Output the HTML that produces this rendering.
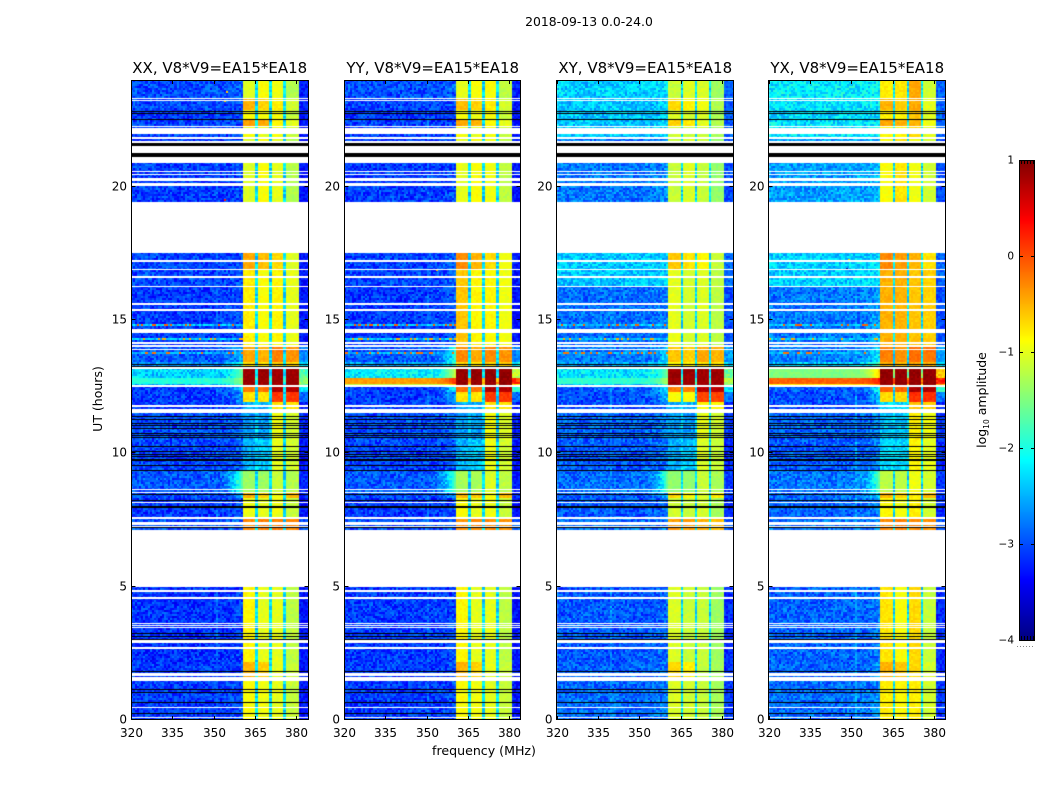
<!DOCTYPE html>
<html>
<head>
<meta charset="utf-8">
<title>2018-09-13 0.0-24.0</title>
<style>
html,body{margin:0;padding:0;background:#fff;}
#figure{position:relative;width:1050px;height:800px;overflow:hidden;background:#fff;}
canvas{position:absolute;display:block;}
#overlay{position:absolute;left:0;top:0;}
text{font-family:"DejaVu Sans","Liberation Sans",sans-serif;fill:#000;}
</style>
</head>
<body>
<div id="figure">
<svg id="overlay" width="1050" height="800" viewBox="0 0 1050 800">
  <text x="589" y="26" text-anchor="middle" font-size="12.4">2018-09-13 0.0-24.0</text>
  <text x="484" y="755" text-anchor="middle" font-size="12.6">frequency (MHz)</text>
  <text transform="translate(102,399) rotate(-90)" text-anchor="middle" font-size="12.5">UT (hours)</text>
  <text transform="translate(986,400) rotate(-90)" text-anchor="middle" font-size="12.5">log<tspan font-size="7.5" dy="3">10</tspan><tspan dy="-3"> amplitude</tspan></text>
</svg>
</div>
<script>
// ---- chart data (frequency in MHz, time in UT hours, values in log10 amplitude) ----
const polarizations = ["XX", "YY", "XY", "YX"];
const baselineLabel = ", V8*V9=EA15*EA18";
const freqTicks = [320, 335, 350, 365, 380];
const utTicks = [0, 5, 10, 15, 20];
const colorbarTicks = [1, 0, -1, -2, -3, -4];

// Start hour of each observing segment; each row in the tables below is one segment.
const segmentStarts = [0, 1.5, 2.2, 7.1, 7.55, 8.3, 8.55, 9.35, 10.5, 11.52, 11.9, 12.3, 12.5, 12.62, 12.85, 13.17, 13.4, 14, 16.3, 16.9, 19.4, 21.8, 22.3, 22.5, 22.9, 23.3];

// Columns: background, edge-of-band, band 1, band 2, band 3, band 4, above-band
const levelsXX = [
  [-3.1,-3.0,-.88,-.95,-1.0,-1.15,-3.3],
  [-3.1,-3.0,-.5,-.65,-1.0,-1.15,-3.3],
  [-3.15,-3.05,-.85,-1.0,-1.0,-1.2,-3.3],
  [-3.0,-2.9,-.3,-.25,-.25,-.3,-3.0],
  [-3.1,-3.0,-.95,-1.0,-.95,-1.15,-3.3],
  [-3.0,-2.5,-.5,-.65,-.9,-.55,-3.2],
  [-2.95,-1.5,-1.35,-1.35,-1.15,-1.25,-3.2],
  [-3.05,-2.9,-2.5,-2.4,-1.0,-1.1,-3.3],
  [-3.0,-2.8,-2.6,-2.6,-.95,-1.1,-3.2],
  [-3.1,-2.9,-2.5,-2.5,-.75,-.75,-3.3],
  [-3.1,-2.5,-.75,-.75,.1,.1,-2.9],
  [-3.1,-2.1,-.2,-.2,.75,.75,-2.2],
  [-2.5,-1.6,.85,.85,.85,.85,-1.7],
  [-1.95,-1.3,.85,.85,.85,.85,-1.4],
  [-2.35,-1.5,.85,.85,.85,.85,-1.7],
  [-2.7,-1.9,-.75,-.75,-.65,-.65,-2.2],
  [-2.95,-2.4,-.45,-.5,-.25,-.35,-2.7],
  [-3.1,-3.0,-.8,-.9,-.85,-1.0,-3.3],
  [-3.05,-3.0,-.8,-.9,-.85,-1.0,-3.3],
  [-3.05,-3.0,-.45,-.55,-.7,-1.05,-3.3],
  [-3.1,-3.0,-1.05,-.9,-1.0,-1.25,-3.3],
  [-3.05,-3.0,-.95,-1.0,-.95,-1.15,-3.3],
  [-3.05,-3.0,-.4,-.45,-.85,-1.0,-3.3],
  [-3.1,-3.0,-.9,-.95,-.9,-1.15,-3.3],
  [-3.05,-3.0,-.5,-.65,-.8,-1.1,-3.25],
  [-3.0,-2.9,-1.05,-.9,-.95,-1.25,-3.25]
];
const levelsYY = [
  [-3.1,-3.0,-.88,-.95,-1.0,-1.15,-3.3],
  [-3.1,-3.0,-.5,-.65,-1.0,-1.15,-3.3],
  [-3.1,-3.05,-.85,-1.0,-1.0,-1.2,-3.3],
  [-3.0,-2.9,-.35,-.3,-.3,-.35,-3.0],
  [-3.1,-3.0,-.9,-1.0,-.95,-1.15,-3.3],
  [-3.0,-2.5,-.55,-.65,-.9,-.55,-3.2],
  [-2.95,-1.5,-1.3,-1.3,-1.05,-1.2,-3.2],
  [-3.05,-2.9,-2.5,-2.4,-.95,-1.1,-3.3],
  [-3.0,-2.8,-2.6,-2.6,-.9,-1.05,-3.2],
  [-3.1,-2.9,-2.5,-2.5,-.75,-.75,-3.3],
  [-3.1,-2.5,-.75,-.75,.1,.1,-2.9],
  [-3.1,-1.9,-.15,-.15,.75,.75,-1.9],
  [-1.2,-.5,.9,.9,.9,.9,-.8],
  [-.4,.2,.9,.9,.9,.9,.1],
  [-2.2,-1.0,.9,.9,.9,.9,-1.2],
  [-2.6,-1.6,-.65,-.75,-.65,-.65,-2.1],
  [-2.95,-1.9,-.3,-.45,-.3,-.35,-2.7],
  [-3.1,-2.9,-.6,-.85,-.85,-.95,-3.3],
  [-3.05,-2.9,-.6,-.85,-.85,-.95,-3.3],
  [-3.05,-2.9,-.3,-.5,-.7,-.95,-3.3],
  [-3.1,-3.0,-1.0,-.9,-.95,-1.2,-3.3],
  [-3.05,-3.0,-.9,-1.0,-.95,-1.15,-3.3],
  [-3.05,-3.0,-.45,-.5,-.85,-1.0,-3.3],
  [-3.1,-3.0,-.9,-.95,-.9,-1.15,-3.3],
  [-3.05,-3.0,-.55,-.65,-.8,-1.1,-3.25],
  [-3.0,-2.9,-1.0,-.9,-.9,-1.2,-3.25]
];
const levelsXY = [
  [-2.85,-2.75,-1.05,-1.1,-1.15,-1.3,-3.1],
  [-2.9,-2.75,-.7,-.8,-1.15,-1.3,-3.15],
  [-2.95,-2.85,-1.05,-1.15,-1.15,-1.35,-3.2],
  [-2.85,-2.75,-.4,-.4,-.5,-.55,-3.0],
  [-2.95,-2.85,-1.1,-1.15,-1.1,-1.3,-3.2],
  [-2.9,-2.4,-.7,-.85,-1.05,-.8,-3.1],
  [-2.85,-1.5,-1.4,-1.4,-1.15,-1.3,-3.1],
  [-2.95,-2.75,-2.5,-2.4,-1.05,-1.15,-3.2],
  [-2.9,-2.65,-2.6,-2.6,-1.0,-1.1,-3.1],
  [-3.0,-2.75,-2.5,-2.5,-.85,-.85,-3.2],
  [-3.0,-2.4,-.9,-.9,.05,.05,-2.8],
  [-2.95,-2.1,-.25,-.25,.7,.7,-2.2],
  [-2.4,-1.6,.85,.85,.85,.85,-1.6],
  [-1.9,-1.2,.85,.85,.85,.85,-1.3],
  [-2.25,-1.5,.85,.85,.85,.85,-1.6],
  [-2.6,-1.9,-.85,-.85,-.75,-.75,-2.3],
  [-2.8,-2.2,-.6,-.65,-.45,-.5,-2.6],
  [-2.85,-2.7,-1.0,-1.1,-1.05,-1.2,-3.0],
  [-2.4,-2.35,-1.0,-1.1,-1.05,-1.2,-2.9],
  [-2.4,-2.35,-.6,-.75,-.85,-1.15,-2.9],
  [-2.8,-2.65,-1.15,-1.05,-1.15,-1.4,-3.0],
  [-2.4,-2.35,-1.1,-1.15,-1.1,-1.3,-2.95],
  [-2.4,-2.35,-.65,-.8,-1.0,-1.25,-2.95],
  [-2.4,-2.35,-1.05,-1.1,-1.05,-1.3,-2.95],
  [-2.4,-2.35,-.7,-.85,-.95,-1.25,-2.95],
  [-2.35,-2.25,-1.15,-1.05,-1.05,-1.35,-2.9]
];
const levelsYX = [
  [-2.85,-2.6,-.8,-.85,-.8,-1.1,-3.1],
  [-2.9,-2.6,-.5,-.6,-.7,-1.1,-3.15],
  [-2.9,-2.7,-.75,-.9,-.7,-1.15,-3.2],
  [-2.8,-2.6,-.3,-.25,-.3,-.35,-3.0],
  [-2.9,-2.7,-.85,-.95,-.8,-1.1,-3.2],
  [-2.85,-2.3,-.5,-.65,-.8,-.55,-3.1],
  [-2.8,-1.5,-1.2,-1.2,-.95,-1.1,-3.1],
  [-2.95,-2.65,-2.3,-2.3,-.85,-1.0,-3.2],
  [-2.9,-2.65,-2.4,-2.4,-.8,-.95,-3.1],
  [-3.0,-2.65,-2.3,-2.3,-.6,-.65,-3.2],
  [-3.0,-2.3,-.7,-.7,.15,.15,-2.8],
  [-2.95,-1.9,-.1,-.1,.8,.8,-1.9],
  [-.8,-.2,.9,.9,.9,.9,-.6],
  [-.1,.3,.9,.9,.9,.9,.2],
  [-1.5,-.5,.9,.9,.9,.9,-.6],
  [-2.4,-1.5,-.5,-.55,-.45,-.5,-2.2],
  [-2.75,-2.1,-.25,-.35,-.15,-.2,-2.6],
  [-2.8,-2.55,-.5,-.5,-.6,-.65,-3.0],
  [-2.35,-2.25,-.5,-.5,-.6,-.65,-2.9],
  [-2.35,-2.25,-.3,-.4,-.5,-.75,-2.9],
  [-2.6,-2.45,-.9,-.75,-.95,-1.1,-3.0],
  [-2.25,-2.2,-.85,-.85,-.7,-1.05,-2.9],
  [-2.25,-2.2,-.45,-.5,-.5,-.95,-2.9],
  [-2.3,-2.25,-.8,-.85,-.6,-1.05,-2.9],
  [-2.25,-2.2,-.5,-.65,-.45,-1.0,-2.9],
  [-2.2,-2.15,-.8,-.75,-.45,-1.1,-2.9]
];
const levelTables = [levelsXX, levelsYY, levelsXY, levelsYX];

// Spectral windows of the receiver [start MHz, end MHz]; gaps between them are notches.
const bandLow = [360.7, 365.9, 371, 376.1];
const bandHigh = [365, 370.1, 375.2, 380.4];
const notchLevel = -2.3;

// Intervals with no data (white), [from UT, to UT]
const gapStart = [.08,.45,1.47,1.66,2.66,2.90,3.44,3.51,3.60,4.54,4.79,5.00,7.23,7.30,7.55,8.13,8.51,8.61,11.52,11.75,12.50,13.17,13.90,14.00,14.10,14.50,15.34,15.57,16.25,16.59,16.86,17.18,17.52,20.03,20.22,20.43,20.54,20.88,21.25,21.63,21.80,21.98,22.26,23.21,23.27];
const gapEnd = [.12,.50,1.60,1.75,2.73,2.99,3.48,3.56,3.65,4.62,4.88,7.13,7.28,7.44,7.62,8.16,8.55,8.65,11.67,11.81,12.56,13.24,13.92,14.06,14.18,14.65,15.41,15.65,16.29,16.66,16.90,17.25,19.44,20.13,20.31,20.48,20.59,21.11,21.53,21.71,21.87,22.21,22.29,23.25,23.31];

// Flagged rows (black), [from UT, to UT]
const flagStart = [.24,.65,1.03,1.14,1.82,3.02,3.11,3.24,7.20,7.95,8.21,8.46,9.34,9.55,9.72,9.86,9.96,10.05,10.26,10.59,10.65,10.72,10.93,11.05,11.12,11.27,11.36,13.26,13.30,21.11,21.53,22.51,22.72,22.79];
const flagEnd = [.27,.68,1.06,1.17,1.85,3.05,3.14,3.27,7.23,8.02,8.24,8.49,9.37,9.58,9.79,9.89,9.99,10.08,10.29,10.62,10.68,10.75,10.96,11.08,11.15,11.30,11.39,13.28,13.36,21.25,21.63,22.54,22.75,22.82];

// Narrow-band interference: rows with spikes, and faint fixed channels
const rfiRowUT = [14.83, 14.31, 13.79];
const rfiRowBase = [-2.3, -2.3, -2.4];
const rfiRowPeak = [-.1, -.5, -.2];
const rfiChannelPol = [0, 1, 1, 2, 3, 3];
const rfiChannelMHz = [351, 339.5, 350.5, 340, 350, 352];
const rfiChannelLevel = [-2.9, -2.4, -2.9, -2.7, -2.6, -2.6];
const rfiSpotPol = [0, 0, 0, 1, 3, 3];
const rfiSpotMHz = [353.8, 353.8, 354.5, 353.5, 348, 349];
const rfiSpotUT = [19.55, 23.25, 23.6, 16.9, 16.95, 17.3];
const rfiSpotLevel = [.3, -.6, -.6, -.5, -3.9, -.7];

// Fixed speckle texture (fraction of the local scatter)
const speckle = [.62,-.41,.13,-.88,.37,.05,-.29,.76,-.54,.21,-.12,.93,-.67,.44,-.03,-.79,.58,.16,-.36,.71,-.95,.28,-.18,.49,.09,-.61,.84,-.25,.33,-.47,.67,-.08,.19,-.73,.52,-.31,.98,-.56,.11,.39,-.84,.24,-.14,.78,-.43,.02,.61,-.91,.31,-.22,.55,-.65,.17,.87,-.38,.07,-.77,.46,-.16,.69,-.51,.26,-.99,.35,.12,-.33,.81,-.59,.42,-.06,-.72,.64,.22,-.45,.91,-.27,.04,-.83,.53,-.19,.74,-.37,.15,-.63,.48,.29,-.86,.57,-.1,.34,-.53,.83,-.24,.08,-.69,.4,-.02,.66,-.48,.2,-.81];

// ---- layout ----
const NS = "http://www.w3.org/2000/svg";
const plotLeft = [131, 344, 556.5, 768.5];
const plotRight = [308, 520, 733, 945];
const plotTop = 80, plotWidth = 176.5, plotHeight = 640;
const freqMin = 320, freqMax = 384, utMin = 0, utMax = 24;
const channelStep = 0.75, rowStep = 0.075, fadeStart = 345;
const cbLeft = 1019, cbTop = 160, cbWidth = 16, cbHeight = 480, cbMin = -4, cbMax = 1;
const cbEdgeFractions = [0.1, 0.3, 0.5, 0.7, 0.9];

const xScale = (mhz, i) => plotLeft[i] + (mhz - freqMin) / (freqMax - freqMin) * plotWidth;
const yScale = ut => plotTop + plotHeight - (ut - utMin) / (utMax - utMin) * plotHeight;
const cbScale = v => cbTop + (cbMax - v) / (cbMax - cbMin) * cbHeight;

function clamp01(x) { return Math.max(0, Math.min(1, x)); }
function jet(t) {
  t = clamp01(t);
  const r = clamp01(1.5 - Math.abs(4 * t - 3));
  const g = clamp01(1.5 - Math.abs(4 * t - 2));
  const b = clamp01(1.5 - Math.abs(4 * t - 1));
  return "rgb(" + Math.round(r * 255) + "," + Math.round(g * 255) + "," + Math.round(b * 255) + ")";
}
const color = v => jet((v - cbMin) / (cbMax - cbMin));

function segmentIndex(ut) {
  let s = 0;
  for (let k = 0; k < segmentStarts.length; k++) { if (ut >= segmentStarts[k]) s = k; }
  return s;
}
function speckleAt(ci, ri, p) {
  const h = (Math.imul(ci + 1, 73856093) ^ Math.imul(ri + 1, 19349663) ^ Math.imul(p + 1, 83492791)) >>> 0;
  return speckle[(h >>> 7) % speckle.length];
}

function cellLevel(p, mhz, ut, ci, ri) {
  const row = levelTables[p][segmentIndex(ut)];
  const noise = speckleAt(ci, ri, p);
  const bandEnd = bandHigh[bandHigh.length - 1];
  if (mhz >= bandLow[0] && mhz < bandEnd) {
    let b = 0;
    for (let k = 0; k < bandLow.length; k++) { if (mhz >= bandLow[k] - 0.45) b = k; }
    const level = row[2 + b];
    return level + noise * (level < -2 ? 0.25 : 0.09);
  }
  if (mhz >= bandEnd) return row[6] + noise * 0.25;
  let base = row[0];
  if (mhz > fadeStart) {
    const f = (mhz - fadeStart) / (bandLow[0] - fadeStart);
    base = row[0] + (row[1] - row[0]) * f * f * f * f;
  }
  const scatter = base > -2 ? 0.1 : 0.36;
  let value = base + noise * scatter;
  for (let r = 0; r < rfiRowUT.length; r++) {
    if (Math.abs(ut - rfiRowUT[r]) < rowStep * 0.6) {
      value = Math.max(value, noise > 0.45 ? rfiRowPeak[r] : rfiRowBase[r] + noise * 0.4);
    }
  }
  for (let c = 0; c < rfiChannelPol.length; c++) {
    if (rfiChannelPol[c] === p && Math.abs(mhz - rfiChannelMHz[c]) < channelStep / 2) {
      value = Math.max(value, rfiChannelLevel[c] + noise * 0.3);
    }
  }
  return value;
}

function svgEl(tag, attrs) {
  const el = document.createElementNS(NS, tag);
  for (const k in attrs) el.setAttribute(k, attrs[k]);
  return el;
}

const figure = document.getElementById("figure");
const overlay = document.getElementById("overlay");

polarizations.forEach((pol, p) => {
  const key = pol.toLowerCase();
  const canvas = document.createElement("canvas");
  
  
  const left = plotLeft[p];
  const ox = Math.floor(left);
  canvas.width = plotRight[p] - ox;
  canvas.height = plotHeight;
  canvas.style.left = ox + "px";
  canvas.style.top = plotTop + "px";
  figure.insertBefore(canvas, overlay);
  const ctx = canvas.getContext("2d");
  const cols = Math.ceil((freqMax - freqMin) / channelStep);
  const rows = Math.ceil((utMax - utMin) / rowStep);
  for (let ci = 0; ci < cols; ci++) {
    const mhz = freqMin + ci * channelStep;
    const x0 = Math.round(xScale(mhz, p) - ox);
    const x1 = Math.round(xScale(mhz + channelStep, p) - ox);
    for (let ri = 0; ri < rows; ri++) {
      const ut = utMin + ri * rowStep;
      const y0 = Math.round(yScale(ut + rowStep) - plotTop);
      const y1 = Math.round(yScale(ut) - plotTop);
      ctx.fillStyle = color(cellLevel(p, mhz + channelStep / 2, ut + rowStep / 2, ci, ri));
      ctx.fillRect(x0, y0, x1 - x0, y1 - y0);
    }
  }
  // band-edge notches drawn at their true frequency
  for (let b = 0; b < bandLow.length - 1; b++) {
    const nx0 = Math.round(xScale(bandHigh[b], p) - ox);
    const nx1 = Math.round(xScale(bandLow[b + 1], p) - ox);
    for (let ri = 0; ri < rows; ri++) {
      const ut = utMin + ri * rowStep;
      const y0 = Math.round(yScale(ut + rowStep) - plotTop);
      const y1 = Math.round(yScale(ut) - plotTop);
      const row = levelTables[p][segmentIndex(ut + rowStep / 2)];
      ctx.fillStyle = color(Math.max(notchLevel, row[0]) + speckleAt(b, ri, p) * 0.3);
      ctx.fillRect(nx0, y0, nx1 - nx0, y1 - y0);
    }
  }
  rfiSpotPol.forEach((sp, s) => {
    if (sp !== p) return;
    ctx.fillStyle = color(rfiSpotLevel[s]);
    ctx.fillRect(Math.round(xScale(rfiSpotMHz[s], p) - ox), Math.round(yScale(rfiSpotUT[s]) - plotTop), 2, 2);
  });
  gapStart.forEach((g, i) => {
    const yTop = Math.round(yScale(gapEnd[i]) - plotTop);
    const yBottom = Math.round(yScale(g) - plotTop);
    ctx.clearRect(0, yTop, canvas.width, Math.max(1, yBottom - yTop));
  });
  ctx.fillStyle = "#000";
  flagStart.forEach((g, i) => {
    const yTop = Math.round(yScale(flagEnd[i]) - plotTop);
    const yBottom = Math.round(yScale(g) - plotTop);
    ctx.fillRect(0, yTop, canvas.width, Math.max(1, yBottom - yTop));
  });

  const group = svgEl("g", {});
  
  
  overlay.appendChild(group);

  const title = svgEl("text", { x: left + plotWidth / 2 + 0.5, y: 73, "text-anchor": "middle", "font-size": "15" });
  
  
  title.textContent = pol + baselineLabel;
  group.appendChild(title);

  const frame = svgEl("rect", { x: ox + 0.5, y: plotTop + 0.5, width: plotRight[p] - ox, height: plotHeight - 1, fill: "none", stroke: "#000", "stroke-width": 1 });
  
  
  group.appendChild(frame);

  freqTicks.forEach(f => {
    const x = Math.round(xScale(f, p)) + 0.5;
    const tick = svgEl("path", { d: "M" + x + " " + (plotTop + plotHeight) + "v-4M" + x + " " + plotTop + "v4", stroke: "#000", "stroke-width": 1 });
    
    
    group.appendChild(tick);
    const label = svgEl("text", { x: x, y: 737, "text-anchor": "middle", "font-size": "12" });
    
    
    label.textContent = f;
    group.appendChild(label);
  });
  utTicks.forEach(u => {
    const y = Math.round(yScale(u)) - 0.5;
    const right = plotRight[p] + 0.5;
    const tick = svgEl("path", { d: "M" + (ox + 0.5) + " " + y + "h4M" + right + " " + y + "h-4", stroke: "#000", "stroke-width": 1 });
    
    
    group.appendChild(tick);
    const label = svgEl("text", { x: left - 4, y: y + 4, "text-anchor": "end", "font-size": "12" });
    
    
    label.textContent = u;
    group.appendChild(label);
  });
});

// ---- colorbar ----
const cbCanvas = document.createElement("canvas");


cbCanvas.width = cbWidth;
cbCanvas.height = cbHeight;
cbCanvas.style.left = cbLeft + "px";
cbCanvas.style.top = cbTop + "px";
figure.insertBefore(cbCanvas, overlay);
const cbCtx = cbCanvas.getContext("2d");
for (let y = 0; y < cbHeight; y++) {
  cbCtx.fillStyle = jet(1 - (y + 0.5) / cbHeight);
  cbCtx.fillRect(0, y, cbWidth, 1);
}
const cbFrame = svgEl("rect", { x: cbLeft + 0.5, y: cbTop + 0.5, width: cbWidth - 1, height: cbHeight, fill: "none", stroke: "#000", "stroke-width": 1 });


overlay.appendChild(cbFrame);
colorbarTicks.forEach(v => {
  const y = Math.round(cbScale(v)) + 0.5;
  const tick = svgEl("path", { d: "M" + cbLeft + " " + y + "h4M" + (cbLeft + cbWidth) + " " + y + "h-4", stroke: "#000", "stroke-width": 1 });
  
  
  overlay.appendChild(tick);
  const label = svgEl("text", { x: cbLeft - 5, y: y + 3, "text-anchor": "end", "font-size": "10.5" });
  
  
  label.textContent = (v < 0 ? "\u2212" + Math.abs(v) : String(v));
  overlay.appendChild(label);
});
cbEdgeFractions.forEach(fr => {
  const x = Math.round(cbLeft + fr * cbWidth) + 0.5;
  const mark = svgEl("path", { d: "M" + x + " " + cbTop + "v4M" + x + " " + (cbTop + cbHeight) + "v-4", stroke: "#000", "stroke-width": 1 });
  
  
  overlay.appendChild(mark);
});
const cbDots = svgEl("line", { x1: 1017, x2: 1035, y1: 646.5, y2: 646.5, stroke: "#888", "stroke-width": 1, "stroke-dasharray": "1 2" });


overlay.appendChild(cbDots);
</script>
</body>
</html>
